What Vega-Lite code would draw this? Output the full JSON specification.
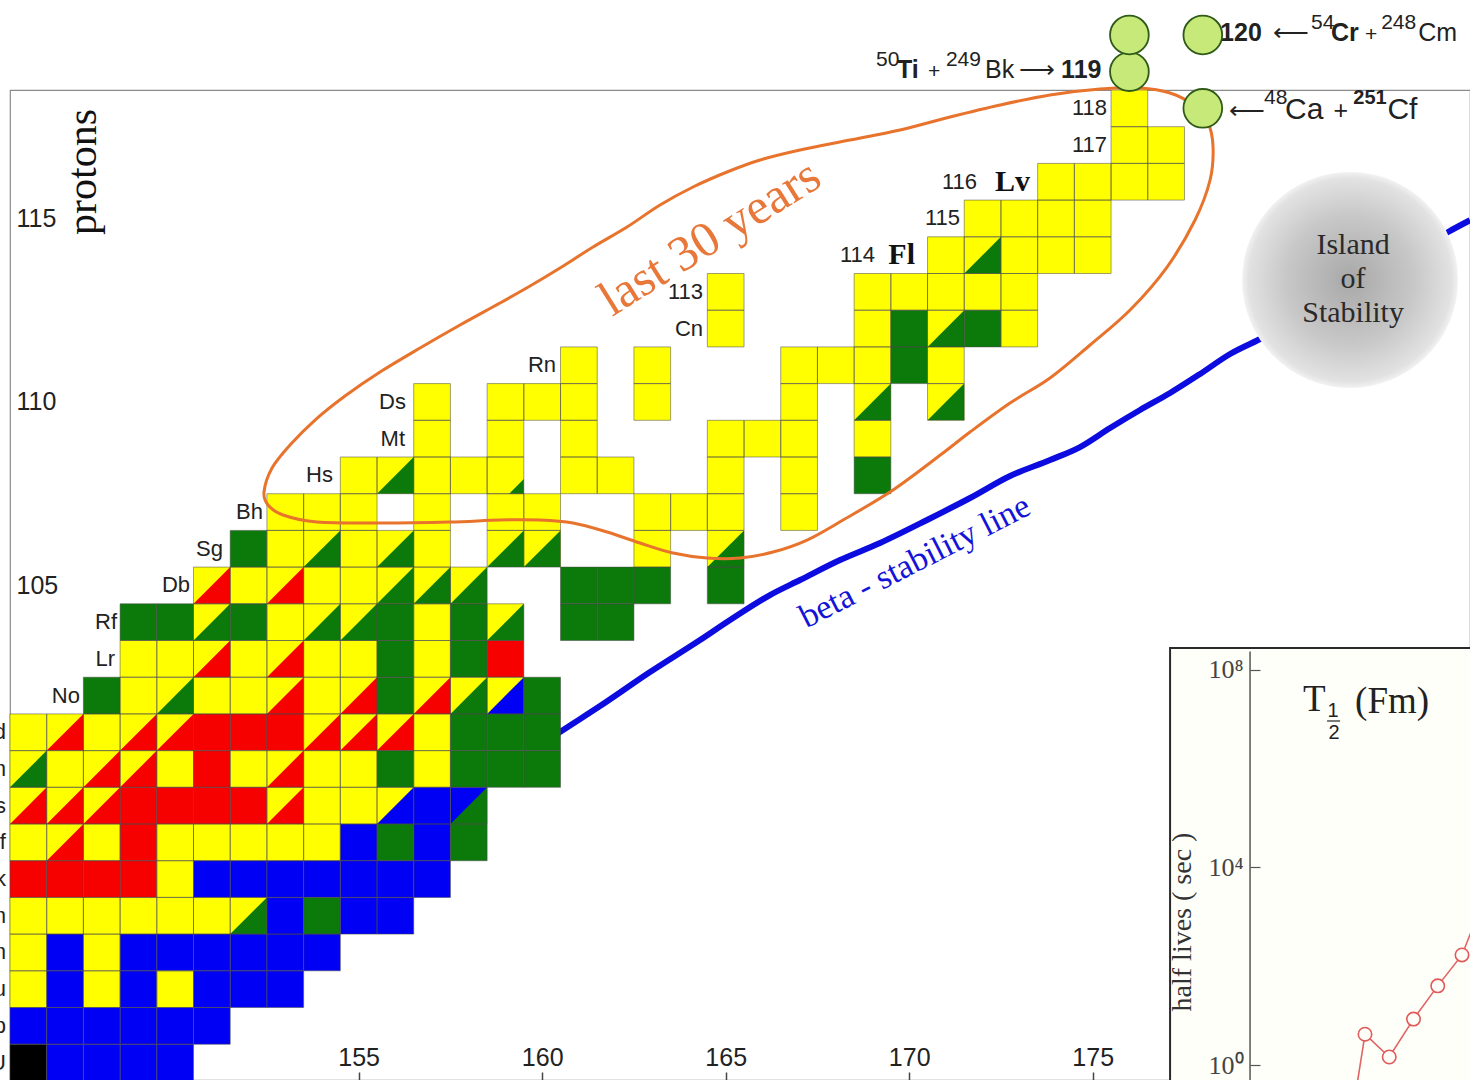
{
  "$schema": "https://vega.github.io/schema/vega-lite/v6.json",
  "autosize": {"type": "none"},
  "padding": {"left": 10, "top": 90, "right": 0, "bottom": 0},
  "width": 1460,
  "height": 990,
  "background": "white",
  "config": {"view": {"stroke": "#8a8a8a", "strokeWidth": 1.2}, "font": "Liberation Sans"},
  "datasets": {
    "nuclides": [
      {"n":176,"z":118,"m":"alpha"},
      {"n":176,"z":117,"m":"alpha"},{"n":177,"z":117,"m":"alpha"},
      {"n":174,"z":116,"m":"alpha"},{"n":175,"z":116,"m":"alpha"},{"n":176,"z":116,"m":"alpha"},{"n":177,"z":116,"m":"alpha"},
      {"n":172,"z":115,"m":"alpha"},{"n":173,"z":115,"m":"alpha"},{"n":174,"z":115,"m":"alpha"},{"n":175,"z":115,"m":"alpha"},
      {"n":171,"z":114,"m":"alpha"},{"n":172,"z":114,"m":"alpha","t":"SF"},{"n":173,"z":114,"m":"alpha"},{"n":174,"z":114,"m":"alpha"},{"n":175,"z":114,"m":"alpha"},
      {"n":165,"z":113,"m":"alpha"},{"n":169,"z":113,"m":"alpha"},{"n":170,"z":113,"m":"alpha"},{"n":171,"z":113,"m":"alpha"},{"n":172,"z":113,"m":"alpha"},{"n":173,"z":113,"m":"alpha"},
      {"n":165,"z":112,"m":"alpha"},{"n":169,"z":112,"m":"alpha"},{"n":170,"z":112,"m":"SF"},{"n":171,"z":112,"m":"alpha","t":"SF"},{"n":172,"z":112,"m":"SF"},{"n":173,"z":112,"m":"alpha"},
      {"n":161,"z":111,"m":"alpha"},{"n":163,"z":111,"m":"alpha"},{"n":167,"z":111,"m":"alpha"},{"n":168,"z":111,"m":"alpha"},{"n":169,"z":111,"m":"alpha"},{"n":170,"z":111,"m":"SF"},{"n":171,"z":111,"m":"alpha"},
      {"n":157,"z":110,"m":"alpha"},{"n":159,"z":110,"m":"alpha"},{"n":160,"z":110,"m":"alpha"},{"n":161,"z":110,"m":"alpha"},{"n":163,"z":110,"m":"alpha"},{"n":167,"z":110,"m":"alpha"},{"n":169,"z":110,"m":"alpha","t":"SF"},{"n":171,"z":110,"m":"alpha","t":"SF"},
      {"n":157,"z":109,"m":"alpha"},{"n":159,"z":109,"m":"alpha"},{"n":161,"z":109,"m":"alpha"},{"n":165,"z":109,"m":"alpha"},{"n":166,"z":109,"m":"alpha"},{"n":167,"z":109,"m":"alpha"},{"n":169,"z":109,"m":"alpha"},
      {"n":155,"z":108,"m":"alpha"},{"n":156,"z":108,"m":"alpha","t":"SF"},{"n":157,"z":108,"m":"alpha"},{"n":158,"z":108,"m":"alpha"},{"n":159,"z":108,"m":"alpha"},{"n":161,"z":108,"m":"alpha"},{"n":162,"z":108,"m":"alpha"},{"n":165,"z":108,"m":"alpha"},{"n":167,"z":108,"m":"alpha"},{"n":169,"z":108,"m":"SF"},
      {"n":153,"z":107,"m":"alpha"},{"n":154,"z":107,"m":"alpha"},{"n":155,"z":107,"m":"alpha"},{"n":157,"z":107,"m":"alpha"},{"n":159,"z":107,"m":"alpha"},{"n":160,"z":107,"m":"alpha"},{"n":163,"z":107,"m":"alpha"},{"n":164,"z":107,"m":"alpha"},{"n":165,"z":107,"m":"alpha"},{"n":167,"z":107,"m":"alpha"},
      {"n":152,"z":106,"m":"SF"},{"n":153,"z":106,"m":"alpha"},{"n":154,"z":106,"m":"alpha","t":"SF"},{"n":155,"z":106,"m":"alpha"},{"n":156,"z":106,"m":"alpha","t":"SF"},{"n":157,"z":106,"m":"alpha"},{"n":159,"z":106,"m":"alpha","t":"SF"},{"n":160,"z":106,"m":"alpha","t":"SF"},{"n":163,"z":106,"m":"alpha"},{"n":165,"z":106,"m":"alpha","t":"SF"},
      {"n":151,"z":105,"m":"alpha","t":"EC"},{"n":152,"z":105,"m":"alpha"},{"n":153,"z":105,"m":"alpha","t":"EC"},{"n":154,"z":105,"m":"alpha"},{"n":155,"z":105,"m":"alpha"},{"n":156,"z":105,"m":"alpha","t":"SF"},{"n":157,"z":105,"m":"alpha","t":"SF"},{"n":158,"z":105,"m":"alpha","t":"SF"},{"n":161,"z":105,"m":"SF"},{"n":162,"z":105,"m":"SF"},{"n":163,"z":105,"m":"SF"},{"n":165,"z":105,"m":"SF"},
      {"n":149,"z":104,"m":"SF"},{"n":150,"z":104,"m":"SF"},{"n":151,"z":104,"m":"alpha","t":"SF"},{"n":152,"z":104,"m":"SF"},{"n":153,"z":104,"m":"alpha"},{"n":154,"z":104,"m":"alpha","t":"SF"},{"n":155,"z":104,"m":"alpha","t":"SF"},{"n":156,"z":104,"m":"SF"},{"n":157,"z":104,"m":"alpha"},{"n":158,"z":104,"m":"SF"},{"n":159,"z":104,"m":"alpha","t":"SF"},{"n":161,"z":104,"m":"SF"},{"n":162,"z":104,"m":"SF"},
      {"n":149,"z":103,"m":"alpha"},{"n":150,"z":103,"m":"alpha"},{"n":151,"z":103,"m":"alpha","t":"EC"},{"n":152,"z":103,"m":"alpha"},{"n":153,"z":103,"m":"alpha","t":"EC"},{"n":154,"z":103,"m":"alpha"},{"n":155,"z":103,"m":"alpha"},{"n":156,"z":103,"m":"SF"},{"n":157,"z":103,"m":"alpha"},{"n":158,"z":103,"m":"SF"},{"n":159,"z":103,"m":"EC"},
      {"n":148,"z":102,"m":"SF"},{"n":149,"z":102,"m":"alpha"},{"n":150,"z":102,"m":"alpha","t":"SF"},{"n":151,"z":102,"m":"alpha"},{"n":152,"z":102,"m":"alpha"},{"n":153,"z":102,"m":"alpha","t":"EC"},{"n":154,"z":102,"m":"alpha"},{"n":155,"z":102,"m":"alpha","t":"EC"},{"n":156,"z":102,"m":"SF"},{"n":157,"z":102,"m":"alpha","t":"EC"},{"n":158,"z":102,"m":"alpha","t":"SF"},{"n":159,"z":102,"m":"alpha","t":"beta"},{"n":160,"z":102,"m":"SF"},
      {"n":146,"z":101,"m":"alpha"},{"n":147,"z":101,"m":"alpha","t":"EC"},{"n":148,"z":101,"m":"alpha"},{"n":149,"z":101,"m":"alpha","t":"EC"},{"n":150,"z":101,"m":"alpha","t":"EC"},{"n":151,"z":101,"m":"EC"},{"n":152,"z":101,"m":"EC"},{"n":153,"z":101,"m":"EC"},{"n":154,"z":101,"m":"alpha","t":"EC"},{"n":155,"z":101,"m":"alpha","t":"EC"},{"n":156,"z":101,"m":"alpha","t":"EC"},{"n":157,"z":101,"m":"alpha"},{"n":158,"z":101,"m":"SF"},{"n":159,"z":101,"m":"SF"},{"n":160,"z":101,"m":"SF"},
      {"n":146,"z":100,"m":"alpha","t":"SF"},{"n":147,"z":100,"m":"alpha"},{"n":148,"z":100,"m":"alpha","t":"EC"},{"n":149,"z":100,"m":"alpha","t":"EC"},{"n":150,"z":100,"m":"alpha"},{"n":151,"z":100,"m":"EC"},{"n":152,"z":100,"m":"alpha"},{"n":153,"z":100,"m":"alpha","t":"EC"},{"n":154,"z":100,"m":"alpha"},{"n":155,"z":100,"m":"alpha"},{"n":156,"z":100,"m":"SF"},{"n":157,"z":100,"m":"alpha"},{"n":158,"z":100,"m":"SF"},{"n":159,"z":100,"m":"SF"},{"n":160,"z":100,"m":"SF"},
      {"n":146,"z":99,"m":"alpha","t":"EC"},{"n":147,"z":99,"m":"alpha","t":"EC"},{"n":148,"z":99,"m":"alpha","t":"EC"},{"n":149,"z":99,"m":"EC"},{"n":150,"z":99,"m":"EC"},{"n":151,"z":99,"m":"EC"},{"n":152,"z":99,"m":"EC"},{"n":153,"z":99,"m":"alpha","t":"EC"},{"n":154,"z":99,"m":"alpha"},{"n":155,"z":99,"m":"alpha"},{"n":156,"z":99,"m":"alpha","t":"beta"},{"n":157,"z":99,"m":"beta"},{"n":158,"z":99,"m":"beta","t":"SF"},
      {"n":146,"z":98,"m":"alpha"},{"n":147,"z":98,"m":"alpha","t":"EC"},{"n":148,"z":98,"m":"alpha"},{"n":149,"z":98,"m":"EC"},{"n":150,"z":98,"m":"alpha"},{"n":151,"z":98,"m":"alpha"},{"n":152,"z":98,"m":"alpha"},{"n":153,"z":98,"m":"alpha"},{"n":154,"z":98,"m":"alpha"},{"n":155,"z":98,"m":"beta"},{"n":156,"z":98,"m":"SF"},{"n":157,"z":98,"m":"beta"},{"n":158,"z":98,"m":"SF"},
      {"n":146,"z":97,"m":"EC"},{"n":147,"z":97,"m":"EC"},{"n":148,"z":97,"m":"EC"},{"n":149,"z":97,"m":"EC"},{"n":150,"z":97,"m":"alpha"},{"n":151,"z":97,"m":"beta"},{"n":152,"z":97,"m":"beta"},{"n":153,"z":97,"m":"beta"},{"n":154,"z":97,"m":"beta"},{"n":155,"z":97,"m":"beta"},{"n":156,"z":97,"m":"beta"},{"n":157,"z":97,"m":"beta"},
      {"n":146,"z":96,"m":"alpha"},{"n":147,"z":96,"m":"alpha"},{"n":148,"z":96,"m":"alpha"},{"n":149,"z":96,"m":"alpha"},{"n":150,"z":96,"m":"alpha"},{"n":151,"z":96,"m":"alpha"},{"n":152,"z":96,"m":"alpha","t":"SF"},{"n":153,"z":96,"m":"beta"},{"n":154,"z":96,"m":"SF"},{"n":155,"z":96,"m":"beta"},{"n":156,"z":96,"m":"beta"},
      {"n":146,"z":95,"m":"alpha"},{"n":147,"z":95,"m":"beta"},{"n":148,"z":95,"m":"alpha"},{"n":149,"z":95,"m":"beta"},{"n":150,"z":95,"m":"beta"},{"n":151,"z":95,"m":"beta"},{"n":152,"z":95,"m":"beta"},{"n":153,"z":95,"m":"beta"},{"n":154,"z":95,"m":"beta"},
      {"n":146,"z":94,"m":"alpha"},{"n":147,"z":94,"m":"beta"},{"n":148,"z":94,"m":"alpha"},{"n":149,"z":94,"m":"beta"},{"n":150,"z":94,"m":"alpha"},{"n":151,"z":94,"m":"beta"},{"n":152,"z":94,"m":"beta"},{"n":153,"z":94,"m":"beta"},
      {"n":146,"z":93,"m":"beta"},{"n":147,"z":93,"m":"beta"},{"n":148,"z":93,"m":"beta"},{"n":149,"z":93,"m":"beta"},{"n":150,"z":93,"m":"beta"},{"n":151,"z":93,"m":"beta"},
      {"n":146,"z":92,"m":"stable"},{"n":147,"z":92,"m":"beta"},{"n":148,"z":92,"m":"beta"},{"n":149,"z":92,"m":"beta"},{"n":150,"z":92,"m":"beta"}
    ],
    "partialSF": [{"n":159,"z":108}],
    "newElements": [{"n":176,"z":119},{"n":176,"z":120},{"n":178,"z":120},{"n":178,"z":118}],
    "last30Years": [
      {"i":1,"n":152.421,"z":107.546},{"i":2,"n":152.639,"z":108.2},{"i":3,"n":153.129,"z":108.827},{"i":4,"n":153.811,"z":109.508},
      {"i":5,"n":154.628,"z":110.162},{"i":6,"n":155.582,"z":110.816},{"i":7,"n":156.672,"z":111.47},{"i":8,"n":157.762,"z":112.097},
      {"i":9,"n":158.851,"z":112.696},{"i":10,"n":159.669,"z":113.159},{"i":11,"n":160.486,"z":113.65},{"i":12,"n":161.386,"z":114.222},
      {"i":13,"n":162.312,"z":114.767},{"i":14,"n":163.211,"z":115.366},{"i":15,"n":164.11,"z":115.857},{"i":16,"n":165.037,"z":116.266},
      {"i":17,"n":165.936,"z":116.593},{"i":18,"n":167.026,"z":116.865},{"i":19,"n":168.388,"z":117.138},{"i":20,"n":169.751,"z":117.41},
      {"i":21,"n":171.113,"z":117.764},{"i":22,"n":172.475,"z":118.091},{"i":23,"n":173.838,"z":118.364},{"i":24,"n":175.2,"z":118.527},
      {"i":25,"n":176.29,"z":118.554},{"i":26,"n":177.108,"z":118.418},{"i":27,"n":177.734,"z":118.091},{"i":28,"n":178.143,"z":117.601},
      {"i":29,"n":178.279,"z":116.947},{"i":30,"n":178.198,"z":116.048},{"i":31,"n":177.789,"z":114.958},{"i":32,"n":177.026,"z":113.677},
      {"i":33,"n":176.018,"z":112.505},{"i":34,"n":174.928,"z":111.552},{"i":35,"n":173.838,"z":110.653},{"i":36,"n":172.748,"z":109.971},
      {"i":37,"n":171.658,"z":109.181},{"i":38,"n":170.922,"z":108.609},{"i":39,"n":169.56,"z":107.601},{"i":40,"n":168.198,"z":106.783},
      {"i":41,"n":167.217,"z":106.238},{"i":42,"n":166.29,"z":105.911},{"i":43,"n":165.391,"z":105.748},{"i":44,"n":164.492,"z":105.748},
      {"i":45,"n":163.565,"z":105.884},{"i":46,"n":162.666,"z":106.157},{"i":47,"n":161.767,"z":106.456},{"i":48,"n":160.841,"z":106.702},
      {"i":49,"n":159.941,"z":106.783},{"i":50,"n":158.851,"z":106.783},{"i":51,"n":157.489,"z":106.729},{"i":52,"n":155.663,"z":106.702},
      {"i":53,"n":153.865,"z":106.729},{"i":54,"n":152.939,"z":106.92},{"i":55,"n":152.53,"z":107.192}
    ],
    "betaStabilityLine": [
      {"i":1,"n":160.078,"z":100.734},{"i":2,"n":160.486,"z":101.007},{"i":3,"n":161.576,"z":101.715},{"i":4,"n":162.939,"z":102.642},
      {"i":5,"n":164.301,"z":103.514},{"i":6,"n":165.119,"z":104.059},{"i":7,"n":166.208,"z":104.74},{"i":8,"n":167.026,"z":105.149},
      {"i":9,"n":168.116,"z":105.693},{"i":10,"n":169.206,"z":106.157},{"i":11,"n":170.486,"z":106.783},{"i":12,"n":171.658,"z":107.383},
      {"i":13,"n":172.748,"z":107.982},{"i":14,"n":173.838,"z":108.418},{"i":15,"n":174.655,"z":108.772},{"i":16,"n":175.473,"z":109.29},
      {"i":17,"n":176.29,"z":109.781},{"i":18,"n":177.108,"z":110.244},{"i":19,"n":177.925,"z":110.762},{"i":20,"n":178.743,"z":111.307},
      {"i":21,"n":179.505,"z":111.688},{"i":22,"n":180.65,"z":112.287},{"i":23,"n":182.012,"z":112.996},{"i":24,"n":183.375,"z":113.786},
      {"i":25,"n":184.683,"z":114.631},{"i":26,"n":185.28,"z":114.95}
    ],
    "island": [{"n":182.012,"z":113.323}],
    "islandLabel": [{"n":182.094,"z":114.277,"s":"Island"},{"n":182.094,"z":113.35,"s":"of"},{"n":182.094,"z":112.424,"s":"Stability"}],
    "orangeLabel": [{"n":164.574,"z":114.467,"s":"last 30 years"}],
    "blueLabel": [{"n":170.16,"z":105.639,"s":"beta - stability line"}],
    "protonsLabel": [{"n":147.49,"z":116.266,"s":"protons"}],
    "elementSymbols": [
      {"n":147.407,"z":102,"s":"No"},{"n":148.361,"z":103,"s":"Lr"},{"n":148.416,"z":104,"s":"Rf"},{"n":150.405,"z":105,"s":"Db"},
      {"n":151.304,"z":106,"s":"Sg"},{"n":152.394,"z":107,"s":"Bh"},{"n":154.301,"z":108,"s":"Hs"},{"n":156.263,"z":109,"s":"Mt"},
      {"n":156.29,"z":110,"s":"Ds"},{"n":160.378,"z":111,"s":"Rn"},{"n":164.383,"z":112,"s":"Cn"},{"n":164.383,"z":113,"s":"113"},
      {"n":169.07,"z":114,"s":"114"},{"n":171.386,"z":115,"s":"115"},{"n":171.849,"z":116,"s":"116"},{"n":175.391,"z":117,"s":"117"},
      {"n":175.391,"z":118,"s":"118"},
      {"n":145.39,"z":101,"s":"Md"},{"n":145.39,"z":100,"s":"Fm"},{"n":145.39,"z":99,"s":"Es"},{"n":145.39,"z":98,"s":"Cf"},
      {"n":145.39,"z":97,"s":"Bk"},{"n":145.39,"z":96,"s":"Cm"},{"n":145.39,"z":95,"s":"Am"},{"n":145.39,"z":94,"s":"Pu"},
      {"n":145.39,"z":93,"s":"Np"},{"n":145.39,"z":92,"s":"U"}
    ],
    "newElementSymbols": [{"n":170.159,"z":114,"s":"Fl"},{"n":173.293,"z":116,"s":"Lv"}],
    "reactionText": [
      {"n":172.067,"z":118.827,"s":"Bk"},{"n":172.993,"z":118.827,"s":"⟶"},
      {"n":179.914,"z":119.835,"s":"⟵"},{"n":183.87,"z":119.835,"s":"Cm"},
      {"n":178.716,"z":117.71,"s":"⟵"},{"n":181.56,"z":117.71,"s":"+"}
    ],
    "reactionBold": [
      {"n":169.669,"z":118.827,"s":"Ti"},{"n":174.139,"z":118.827,"s":"119"},{"n":178.471,"z":119.835,"s":"120"},{"n":181.49,"z":119.835,"s":"Cr"}
    ],
    "reactionSmall": [
      {"n":169.097,"z":119.154,"s":"50"},{"n":170.514,"z":118.827,"s":"+"},{"n":171.0,"z":119.154,"s":"249"},
      {"n":180.95,"z":120.162,"s":"54"},{"n":182.42,"z":119.835,"s":"+"},{"n":182.86,"z":120.162,"s":"248"},
      {"n":179.67,"z":118.119,"s":"48"}
    ],
    "reactionSmallBold": [{"n":182.1,"z":118.119,"s":"251"}],
    "reactionLarge": [
      {"n":180.24,"z":117.71,"s":"Ca"},{"n":183.03,"z":117.71,"s":"Cf"}
    ],
    "insetFrame": [{"n":177.108,"n2":185.6,"z":103.296,"z2":91.2}],
    "insetAxisLine": [{"n":179.287,"z":103.2,"z2":91.2}],
    "insetTitle": [{"n":180.731,"z":101.879,"s":"T"},{"n":182.149,"z":101.824,"s":"(Fm)"}],
    "insetFraction": [{"n":181.549,"z":101.579,"s":"1"},{"n":181.576,"z":100.98,"s":"2"}],
    "insetFractionBar": [{"n":181.386,"n2":181.74,"z":101.307}],
    "insetAxisTitle": [{"n":177.462,"z":95.83,"s":"half lives ( sec )"}],
    "fmHalfLives": [
      {"A":244,"t":0.0033},{"A":245,"t":4.2},{"A":246,"t":1.45},{"A":247,"t":8.5},{"A":248,"t":40},{"A":249,"t":169},{"A":250,"t":3000}
    ]
  },
  "layer": [
    {
      "encoding": {
        "x": {
          "field": "n", "type": "quantitative",
          "scale": {"domain": [145.5, 185.28], "nice": false, "zero": false},
          "axis": {
            "orient": "bottom", "values": [155, 160, 165, 170, 175], "title": null, "grid": false, "domain": false,
            "tickSize": -8, "tickColor": "#444", "tickWidth": 1.5, "labelPadding": -15, "labelBaseline": "middle",
            "labelFlush": false, "labelFont": "Liberation Sans", "labelFontSize": 25, "labelColor": "#222"
          }
        },
        "y": {
          "field": "z", "type": "quantitative",
          "scale": {"domain": [91.525, 118.5], "nice": false, "zero": false},
          "axis": {
            "orient": "left", "values": [105, 110, 115], "title": null, "grid": false, "domain": false, "ticks": false,
            "labelAlign": "left", "labelPadding": -6, "labelBaseline": "middle",
            "labelFont": "Liberation Sans", "labelFontSize": 25, "labelColor": "#222"
          }
        }
      },
      "layer": [
        {
          "data": {"name": "betaStabilityLine"},
          "mark": {"type": "line", "color": "#0c0ce0", "strokeWidth": 6, "interpolate": "monotone"},
          "encoding": {"order": {"field": "i", "type": "quantitative"}}
        },
        {
          "data": {"name": "island"},
          "mark": {
            "type": "point", "shape": "circle", "filled": true, "size": 46656, "opacity": 1, "strokeWidth": 0,
            "fill": {
              "gradient": "radial", "x1": 0.5, "y1": 0.5, "r1": 0, "x2": 0.5, "y2": 0.5, "r2": 0.5,
              "stops": [
                {"offset": 0, "color": "#a8a8a8"},
                {"offset": 0.6, "color": "#c8c8c8"},
                {"offset": 0.94, "color": "#e2e2e2"},
                {"offset": 1, "color": "#f2f2f2"}
              ]
            }
          }
        },
        {
          "data": {"name": "nuclides"},
          "mark": {"type": "point", "shape": "square", "filled": true, "size": 1347, "opacity": 1, "strokeWidth": 0},
          "encoding": {
            "color": {
              "field": "m", "type": "nominal", "legend": null,
              "scale": {"domain": ["alpha", "SF", "EC", "beta", "stable"], "range": ["#ffff00", "#0b7a0b", "#f70000", "#0000f4", "#000000"]}
            }
          }
        },
        {
          "data": {"name": "nuclides"},
          "transform": [{"filter": "isValid(datum.t)"}],
          "mark": {"type": "point", "shape": "M -1 1 L 1 1 L 1 -1 Z", "filled": true, "size": 1347, "opacity": 1, "strokeWidth": 0},
          "encoding": {
            "color": {
              "field": "t", "type": "nominal", "legend": null,
              "scale": {"domain": ["alpha", "SF", "EC", "beta", "stable"], "range": ["#ffff00", "#0b7a0b", "#f70000", "#0000f4", "#000000"]}
            }
          }
        },
        {
          "data": {"name": "partialSF"},
          "mark": {"type": "point", "shape": "M 0.2 1 L 1 1 L 1 0.2 Z", "filled": true, "size": 1347, "opacity": 1, "strokeWidth": 0, "color": "#0b7a0b"}
        },
        {
          "data": {"name": "nuclides"},
          "mark": {"type": "point", "shape": "square", "filled": false, "size": 1347, "stroke": "#4a4a4a", "strokeWidth": 0.7, "opacity": 0.75}
        },
        {
          "data": {"name": "last30Years"},
          "mark": {"type": "line", "color": "#e8732c", "strokeWidth": 3, "interpolate": "cardinal-closed"},
          "encoding": {"order": {"field": "i", "type": "quantitative"}}
        },
        {
          "data": {"name": "orangeLabel"},
          "mark": {"type": "text", "font": "Liberation Serif", "fontSize": 50, "color": "#e8773a", "angle": 328, "align": "center", "baseline": "middle"},
          "encoding": {"text": {"field": "s"}}
        },
        {
          "data": {"name": "blueLabel"},
          "mark": {"type": "text", "font": "Liberation Serif", "fontSize": 34, "color": "#1414d8", "angle": 333, "align": "center", "baseline": "middle"},
          "encoding": {"text": {"field": "s"}}
        },
        {
          "data": {"name": "islandLabel"},
          "mark": {"type": "text", "font": "Liberation Serif", "fontSize": 30, "color": "#2a2a2a", "align": "center", "baseline": "middle"},
          "encoding": {"text": {"field": "s"}}
        },
        {
          "data": {"name": "protonsLabel"},
          "mark": {"type": "text", "font": "Liberation Serif", "fontSize": 42, "color": "#111", "angle": 270, "align": "center", "baseline": "middle"},
          "encoding": {"text": {"field": "s"}}
        },
        {
          "data": {"name": "elementSymbols"},
          "mark": {"type": "text", "font": "Liberation Sans", "fontSize": 22, "color": "#222", "align": "right", "baseline": "middle"},
          "encoding": {"text": {"field": "s"}}
        },
        {
          "data": {"name": "newElementSymbols"},
          "mark": {"type": "text", "font": "Liberation Serif", "fontSize": 30, "fontWeight": "bold", "color": "#111", "align": "right", "baseline": "middle"},
          "encoding": {"text": {"field": "s"}}
        },
        {
          "data": {"name": "reactionText"},
          "mark": {"type": "text", "font": "Liberation Sans", "fontSize": 25, "color": "#222", "align": "left", "baseline": "alphabetic"},
          "encoding": {"text": {"field": "s"}}
        },
        {
          "data": {"name": "reactionBold"},
          "mark": {"type": "text", "font": "Liberation Sans", "fontSize": 25, "fontWeight": "bold", "color": "#222", "align": "left", "baseline": "alphabetic"},
          "encoding": {"text": {"field": "s"}}
        },
        {
          "data": {"name": "reactionSmall"},
          "mark": {"type": "text", "font": "Liberation Sans", "fontSize": 21, "color": "#222", "align": "left", "baseline": "alphabetic"},
          "encoding": {"text": {"field": "s"}}
        },
        {
          "data": {"name": "reactionSmallBold"},
          "mark": {"type": "text", "font": "Liberation Sans", "fontSize": 20, "fontWeight": "bold", "color": "#222", "align": "left", "baseline": "alphabetic"},
          "encoding": {"text": {"field": "s"}}
        },
        {
          "data": {"name": "reactionLarge"},
          "mark": {"type": "text", "font": "Liberation Sans", "fontSize": 30, "color": "#222", "align": "left", "baseline": "alphabetic"},
          "encoding": {"text": {"field": "s"}}
        },
        {
          "data": {"name": "newElements"},
          "mark": {"type": "point", "shape": "circle", "filled": true, "size": 1500, "opacity": 1, "fill": "#c6e97a", "stroke": "#2f5a17", "strokeWidth": 1.8}
        },
        {
          "data": {"name": "insetFrame"},
          "mark": {"type": "rect", "fill": "#fffffa", "stroke": "#2a2a2a", "strokeWidth": 2},
          "encoding": {"x2": {"field": "n2"}, "y2": {"field": "z2"}}
        },
        {
          "data": {"name": "insetAxisLine"},
          "mark": {"type": "rule", "color": "#555", "strokeWidth": 1.5},
          "encoding": {"y2": {"field": "z2"}}
        },
        {
          "data": {"name": "insetTitle"},
          "mark": {"type": "text", "font": "Liberation Serif", "fontSize": 37, "color": "#222", "align": "left", "baseline": "middle"},
          "encoding": {"text": {"field": "s"}}
        },
        {
          "data": {"name": "insetFraction"},
          "mark": {"type": "text", "font": "Liberation Sans", "fontSize": 20, "color": "#222", "align": "center", "baseline": "middle"},
          "encoding": {"text": {"field": "s"}}
        },
        {
          "data": {"name": "insetFractionBar"},
          "mark": {"type": "rule", "color": "#222", "strokeWidth": 1.2},
          "encoding": {"x2": {"field": "n2"}}
        },
        {
          "data": {"name": "insetAxisTitle"},
          "mark": {"type": "text", "font": "Liberation Serif", "fontSize": 28, "color": "#333", "angle": 270, "align": "center", "baseline": "middle"},
          "encoding": {"text": {"field": "s"}}
        }
      ]
    },
    {
      "data": {"name": "fmHalfLives"},
      "encoding": {
        "x": {"field": "A", "type": "quantitative", "scale": {"domain": [189.12, 249.33], "nice": false, "zero": false}, "axis": null},
        "y": {
          "field": "t", "type": "quantitative",
          "scale": {"type": "log", "domain": [0.497, 5.46e19], "nice": false},
          "axis": {
            "orient": "right", "offset": -220, "values": [1, 10000, 100000000], "title": null, "grid": false, "domain": false,
            "zindex": 1, "tickSize": 10, "tickColor": "#555", "tickWidth": 1.2,
            "labelAlign": "right", "labelPadding": -17, "labelBaseline": "middle",
            "labelExpr": "datum.value >= 1e8 ? '10⁸' : datum.value >= 1e4 ? '10⁴' : '10⁰'",
            "labelFont": "Liberation Serif", "labelFontSize": 26, "labelColor": "#444"
          }
        }
      },
      "layer": [
        {"mark": {"type": "line", "color": "#e06464", "strokeWidth": 1.6}},
        {
          "transform": [{"filter": "datum.A >= 245 && datum.A <= 249"}],
          "mark": {"type": "point", "shape": "circle", "filled": true, "size": 180, "opacity": 1, "fill": "#fffffa", "stroke": "#e05a5a", "strokeWidth": 1.6}
        }
      ]
    }
  ],
  "resolve": {"scale": {"x": "independent", "y": "independent"}}
}
